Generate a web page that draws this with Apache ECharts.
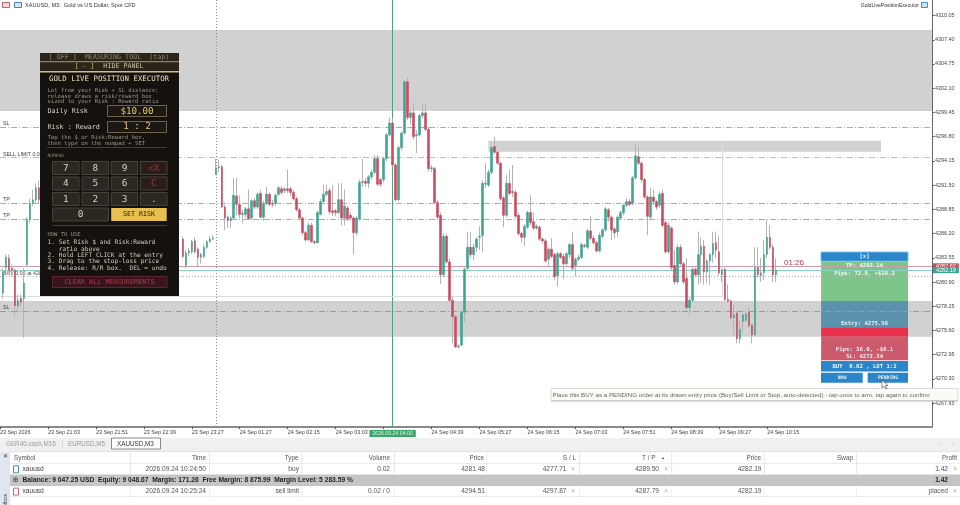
<!DOCTYPE html>
<html>
<head>
<meta charset="utf-8">
<style>html,body{margin:0;padding:0;background:#fff}#chart{width:960px;height:505px}</style>
<script src="https://cdn.jsdelivr.net/npm/echarts@6/dist/echarts.min.js"></script>
</head>
<body>
<div id="chart"></div>
<script>
// [open, close, low, high]. i = 1..13, left of the panel
var barsLeft = [
[4279.7,4281.9,4279.1,4282.4],[4282.5,4283.6,4282.2,4283.9],[4283.5,4282.2,4281.9,4283.9],[4282.4,4282.2,4281.5,4282.8],
[4282.2,4278.3,4277.1,4282.4],[4278.3,4278.9,4277.5,4279.5],[4279.1,4278.7,4278.2,4279.5],[4279.1,4280.8,4274.8,4282.4],
[4282.8,4287.7,4282.5,4288],[4287.7,4289.5,4287.3,4290],[4289.5,4289.9,4289.2,4291],[4289.9,4291.2,4289.6,4291.7],
[4291.2,4289.9,4289.5,4292]
];
// bars covered by the panel cannot be read
var hiddenBarCount = 47;
// i = 61 onwards, right of the panel
var barsRight = [
[4285.6,4283.7,4283.5,4285.9],[4282.7,4284.1,4282.4,4284.4],[4284.1,4284.3,4283.7,4284.6],[4284.2,4285.3,4284,4285.5],
[4285.4,4284.2,4284,4285.8],[4284.5,4283.6,4282.5,4284.7],[4283.6,4283.9,4282.9,4284.1],[4283.7,4284.7,4283.5,4285],
[4284.7,4285.3,4284.5,4285.5],[4285.3,4285.6,4285.2,4285.9],[4285.6,4285.7,4285.5,4286],[4292.7,4293.4,4292.6,4294.4],
[4293.4,4293.5,4292.9,4294.3],[4293.5,4289.1,4289,4293.7],[4289.1,4287.9,4286.6,4289.3],[4288,4287.6,4286.8,4288.2],
[4287.6,4287.9,4286.8,4288.1],[4287.9,4290.4,4287.7,4292.3],[4290.3,4289.4,4288.2,4292.3],[4289.4,4288.3,4287.9,4290.4],
[4288.3,4288.4,4287.3,4288.8],[4288.3,4288.9,4287.9,4289.1],[4288.9,4287.8,4287.7,4291],[4287.9,4289.8,4287.7,4290],
[4289.8,4289.1,4288.9,4290.1],[4289.1,4290.5,4288.9,4290.7],[4290.6,4288,4287.8,4291],[4288,4289.5,4287.6,4289.8],
[4289.5,4290.5,4289.3,4291.3],[4290.5,4289.4,4289.2,4290.7],[4289.5,4289.4,4289.1,4289.9],[4289.5,4290.4,4289.2,4290.6],
[4290.5,4291.2,4290.3,4291.4],[4291.1,4290.7,4290.4,4291.4],[4290.9,4291.1,4290.6,4291.3],[4291.1,4290.9,4290.6,4293.2],
[4291.1,4290.7,4290.3,4291.3],[4290.7,4290,4289.8,4291],[4290,4288.8,4288.6,4290.2],[4288.8,4287.9,4287.7,4289],
[4287.9,4286.3,4286,4288.1],[4286.3,4285.5,4285.3,4286.5],[4285.5,4287.1,4285.4,4287.4],[4287.1,4285.3,4285.2,4287.4],
[4285.3,4285.2,4285,4285.5],[4285.2,4288.5,4285.1,4288.7],[4288.3,4289.7,4288.2,4290],[4289.7,4290.5,4289.6,4291.5],
[4290.5,4290.8,4290.3,4291.5],[4290.9,4288.6,4288.3,4291.2],[4288.7,4288.5,4288.1,4291.5],[4288.7,4288.5,4288.1,4288.9],
[4288.5,4289.9,4288.3,4291.7],[4289.9,4287.9,4287.1,4291.7],[4287.9,4289.2,4287.1,4291],[4289,4287.8,4287.6,4289.2],
[4288.2,4287.9,4287.6,4288.5],[4287.9,4286.3,4283.9,4288.1],[4286.3,4287.9,4286,4288.1],[4287.8,4291.8,4287.6,4292.1],
[4291.8,4291.9,4291.3,4294.4],[4291.9,4291.7,4291.3,4292.3],[4291.7,4292.4,4291.2,4292.6],[4292.4,4292.9,4292.1,4293.2],
[4292.9,4294.4,4292.7,4294.8],[4294.4,4291.6,4291.4,4294.8],[4292.1,4291.6,4291.3,4292.3],[4292.1,4294.4,4291.8,4294.6],
[4294.4,4297,4294.1,4297.2],[4297,4298.3,4296.8,4298.9],[4298.3,4293.7,4293.5,4298.8],[4293.7,4289.9,4289.7,4293.9],
[4289.9,4295.6,4289.7,4295.8],[4295.6,4297.2,4295.3,4297.4],[4297.2,4302.8,4297,4303],[4302.8,4298.9,4298.6,4303.3],
[4298.9,4299.4,4298.1,4299.7],[4299.4,4296.8,4296.5,4300.5],[4296.9,4297,4295,4297.5],[4297,4299.1,4296.8,4299.3],
[4299.1,4299.4,4298.8,4300.5],[4299.4,4297.6,4297.4,4300.5],[4297.6,4293.3,4293,4297.9],[4293.3,4293.4,4292.9,4293.7],
[4293.3,4289.6,4289.4,4293.5],[4289.6,4288,4287.8,4289.9],[4288.2,4281.7,4280.7,4288.5],[4281.7,4285.9,4281.4,4286.2],
[4285.9,4283.1,4282.9,4286.2],[4283.1,4278.9,4278.7,4283.5],[4278.9,4277.1,4274.2,4279.3],[4277.1,4273.8,4273.7,4277.3],
[4273.8,4273.9,4273.6,4274.1],[4274,4277.6,4273.9,4277.8],[4277.6,4282.3,4276.5,4282.5],[4282.4,4284.7,4282.2,4286.4],
[4284.7,4283.9,4283.5,4286.4],[4283.9,4284.7,4283.3,4285.1],[4284.7,4285.6,4284.2,4285.8],[4285.8,4285.9,4284.4,4287],
[4286,4291.7,4284.2,4292],[4291.6,4291.7,4291.2,4293.9],[4291.5,4292.9,4291.3,4293.2],[4292.9,4295.6,4292.7,4295.8],
[4295.7,4295.1,4294.9,4296.8],[4295.1,4293.9,4293.7,4295.3],[4293.9,4290,4289.8,4294.1],[4290.1,4288.2,4286.9,4290.3],
[4288.2,4291.7,4288,4292.6],[4291.7,4290.6,4290.4,4293.2],[4290.8,4290.7,4290.2,4293.7],[4290.7,4288.1,4287.9,4291],
[4288.2,4286.2,4286,4288.5],[4286.2,4285.8,4285.2,4286.4],[4285.8,4287,4284.8,4287.2],[4286.9,4288.5,4286.7,4288.7],
[4288.5,4287.4,4287.1,4290.4],[4287.5,4286.8,4286.6,4288.5],[4286.8,4287,4286.6,4287.2],[4286.9,4285.6,4285.4,4287.1],
[4285.6,4285.4,4285.1,4285.8],[4285.4,4283.2,4283,4285.6],[4283.4,4284.5,4282.7,4284.7],[4284.5,4283.7,4283.5,4285.7],
[4283.9,4281.5,4281.1,4284.1],[4281.6,4284,4280.4,4284.2],[4284,4283.6,4283.4,4284.2],[4283.7,4282.9,4281.2,4284],
[4282.9,4284,4282.7,4284.2],[4283.9,4285,4283.5,4285.2],[4285,4282.4,4282.2,4286.4],[4282.7,4283.4,4281.5,4283.6],
[4283.4,4283.6,4283.2,4283.9],[4283.6,4285,4283.4,4285.2],[4284.9,4284.8,4284.6,4285.1],[4284.7,4286.5,4284.5,4286.7],
[4286.5,4285.7,4285.5,4288.1],[4285.7,4285.2,4285,4286],[4285.2,4284.3,4284.1,4285.4],[4284.3,4286,4284.1,4286.3],
[4285.9,4286.6,4285.7,4286.8],[4286.6,4288.9,4286.4,4289.1],[4288.8,4288,4287.5,4289],[4288,4286.6,4285.5,4288.2],
[4286.7,4286.3,4285.7,4286.9],[4286.4,4288,4285.8,4288.2],[4287.9,4288.5,4287.7,4288.7],[4288.5,4289.3,4288.2,4289.5],
[4289.3,4289.7,4289.1,4290.1],[4289.7,4289.4,4289.2,4290],[4289.5,4292.3,4289.3,4292.5],[4292.3,4294.7,4292.1,4296],
[4294.6,4293.9,4293.7,4295.7],[4293.9,4292.1,4291.8,4294.1],[4292.1,4290.2,4290,4292.3],[4290.2,4288.1,4286,4290.4],
[4288,4290.2,4287.7,4291.2],[4290.2,4289.7,4289.3,4291],[4289.7,4289.1,4288.8,4289.9],[4289.3,4290.5,4289,4290.8],
[4290.6,4287.1,4286.9,4291],[4287.4,4284.2,4284,4287.6],[4284.2,4287.1,4284,4287.4],[4286.8,4282.5,4282.2,4287],
[4282.7,4280.9,4280.6,4284.4],[4280.9,4284.7,4280.7,4285],[4284.7,4282.9,4282.7,4285],[4282.9,4280.9,4280.7,4283.1],
[4281.3,4278.1,4277.8,4283.5],[4278.1,4278.9,4277.3,4279.2],[4278.9,4282.3,4278.7,4282.5],[4282.3,4281.7,4281.4,4282.5],
[4281.7,4283.9,4280.6,4286.4],[4283.9,4284.8,4280.8,4285.8],[4284.8,4282,4280.6,4285.5],[4282,4283.2,4280.8,4283.4],
[4283.2,4283.9,4280.6,4284.1],[4283.9,4285.1,4283,4286.4],[4285.2,4284.4,4283.5,4286.4],[4284.2,4281.9,4281.6,4285.9],
[4281.7,4282.2,4280.9,4282.4],[4282.3,4279,4278.8,4282.5],[4279,4278.8,4278.6,4280.6],[4278.8,4277,4276.7,4279],
[4277,4277.3,4275.1,4278.4],[4277.5,4274.7,4274.2,4277.7],[4274.7,4275.7,4274.2,4276.7],[4276.6,4277.3,4275.4,4277.5],
[4276.7,4277.4,4276.5,4277.8],[4277.6,4276.1,4275.9,4278.1],[4276.2,4275.1,4274.2,4276.4],[4275.1,4282.5,4274.9,4284.7],
[4282.5,4281.7,4281.4,4284.7],[4281.6,4281.9,4280.9,4283.5],[4281.9,4283.9,4281.1,4285.5],[4283.9,4285.8,4283.5,4287.7],
[4285.8,4284.7,4284.4,4287.1],[4284.7,4281.7,4280.9,4285],[4281.7,4282.2,4280.9,4283.5]
];
var barSlots = 312;
var tickEvery = 16;
var timeTicks = ['23 Sep 2026','23 Sep 21:03','23 Sep 21:51','23 Sep 22:39','23 Sep 23:27','24 Sep 01:27','24 Sep 02:15','24 Sep 03:03',
  '24 Sep 03:51','24 Sep 04:39','24 Sep 05:27','24 Sep 06:15','24 Sep 07:03','24 Sep 07:51','24 Sep 08:39','24 Sep 09:27','24 Sep 10:15'];
var priceTicks = [4267.65,4270.30,4272.95,4275.60,4278.25,4280.90,4283.55,4286.20,4288.85,4291.50,4294.15,4296.80,4299.45,4302.10,4304.75,4307.40,4310.05];
var priceMin = 4265.04, priceMax = 4311.75;

var sellSl = 4297.87, sellEntry = 4294.51, buyTp = 4289.50, sellTp = 4287.79;
var askPrice = 4282.62, bidPrice = 4282.19, buyEntry = 4281.48, buySl = 4277.71;
var zoneTop = [4308.46, 4299.60], zoneMid = [4296.35, 4295.15], zoneLow = [4278.81, 4274.90];
var boxLevel = 4279.3;
var rrTp = 4283.14, rrEntry = 4275.96, rrSl = 4272.34;
var crossIndex = 131, sessionIndex = 72, boxEndIndex = 241;
var zoneMidFrom = 163, zoneMidTo = 294, rrFrom = 274, rrTo = 303;

var tableHeader = ['Symbol','Time','Type','Volume','Price','S / L','T / P','Price','Swap','Profit'];
var tableRow1 = ['xauusd','2026.09.24 10:24:50','buy','0.02','4281.48','4277.71','4289.50','4282.19','','1.42'];
var tableRow2 = ['xauusd','2026.09.24 10:25:24','sell limit','0.02 / 0','4294.51','4297.87','4287.79','4282.19','','placed'];
var balanceText = 'Balance: 9 047.25 USD  Equity: 9 048.67  Margin: 171.26  Free Margin: 8 875.99  Margin Level: 5 283.59 %';
var tabs = ['GER40.cash,M15','EURUSD,M5','XAUUSD,M3'];
var helpIntro = ['Lot from your Risk + SL distance;','release draws a risk/reward box','sized to your Risk : Reward ratio'];
var helpTap = ['Tap the $ or Risk:Reward box,','then type on the numpad + SET'];
var helpSteps = ['1. Set Risk $ and Risk:Reward','   ratio above','2. Hold LEFT CLICK at the entry','3. Drag to the stop-loss price','4. Release: R/R box.  DEL = undo'];
var keys = [['7','8','9','<X'],['4','5','6','C'],['1','2','3','.']];

var ohlc = [['-','-','-','-']].concat(barsLeft);
for (var h = 0; h < hiddenBarCount; h++) ohlc.push(['-','-','-','-']);
ohlc = ohlc.concat(barsRight);
while (ohlc.length < barSlots) ohlc.push(['-','-','-','-']);

var bodies = ohlc.map(function (b) {
    if (b[0] === '-') return b;
    return [b[0], b[1], Math.min(b[0], b[1]), Math.max(b[0], b[1])];
});
var categories = ohlc.map(function (b, i) {
    return i % tickEvery === 0 && timeTicks[i / tickEvery] ? timeTicks[i / tickEvery] : String(i);
});

var TEAL = '#3fa592', RED = '#cb4c61', MONO = '"DejaVu Sans Mono"', SANS = '"Liberation Sans"';
var dashDot = [6, 2, 1, 2];

function hLevel(v, color, type, name) {
    return {
        yAxis: v,
        lineStyle: { color: color, type: type, width: 1 },
        label: name ? { show: true, formatter: name, position: 'insideStartTop', distance: [3, 1], color: '#444', fontSize: 5.3, fontFamily: SANS } : { show: false }
    };
}
function priceTag(v, color, line) {
    return {
        yAxis: v,
        lineStyle: { color: line, type: 'solid', width: 1 },
        label: { show: true, formatter: v.toFixed(2), position: 'end', distance: 1, color: '#fff', backgroundColor: color, fontSize: 5.5, fontFamily: SANS, padding: [0, 3] }
    };
}
function areaFill(a, b, color) {
    return [{ yAxis: a, itemStyle: { color: color } }, { yAxis: b }];
}
function boxFill(a, b, color, from, to) {
    return [{ xAxis: from, yAxis: a, itemStyle: { color: color } }, { xAxis: to, yAxis: b }];
}

var g = [];
function rect(x, y, w, h, fill, stroke) {
    g.push({ type: 'rect', silent: true, z: 100, shape: { x: x, y: y, width: w, height: h }, style: { fill: fill || 'none', stroke: stroke || 'none', lineWidth: 1 } });
}
function text(x, y, s, size, color, font, align, weight) {
    g.push({ type: 'text', silent: true, z: 101, x: x, y: y, style: { text: s, fontSize: size, fontFamily: font || MONO, fill: color, textAlign: align || 'left', textVerticalAlign: 'middle', fontWeight: weight || 'normal' } });
}

// top captions
rect(2.5, 2.5, 7, 5, '#f6d9dc', '#c8606a');
rect(14.5, 2.5, 7, 5, '#dbe8f6', '#4a7fb8');
text(25, 5.2, 'XAUUSD, M3:  Gold vs US Dollar, Spot CFD', 5.6, '#333', SANS);
text(919, 5.2, 'GoldLivePositionExecutor', 5.1, '#333', SANS, 'right');
rect(921.5, 2.5, 6, 5, '#cfe4f7', '#3a8fd0');

// measuring panel
rect(40, 53, 139, 243, '#14110e');
rect(40, 53, 139, 8.5, '#2a2419');
rect(40, 62.5, 139, 8, '#2a2419');
rect(40, 61.3, 139, 1, '#b5a67a');
rect(40, 71, 139, 1.4, '#cdbf92');
text(109, 57.2, '[ OFF ]  MEASURING TOOL  (tap)', 6.7, '#8c8570', MONO, 'center');
text(84.5, 66.6, '[ - ]', 6.7, '#d8b860', MONO, 'center');
text(123.5, 66.6, 'HIDE PANEL', 6.7, '#d2c79d', MONO, 'center');
text(109, 79.5, 'GOLD LIVE POSITION EXECUTOR', 7.4, '#ece0bb', MONO, 'center');
helpIntro.forEach(function (s, i) { text(47.5, 91 + i * 5.4, s, 5.6, '#9a9484'); });
text(47.5, 111.5, 'Daily Risk', 6.7, '#dcd5c0');
rect(107.5, 105.5, 59, 11, '#1b1712', '#6e6445');
text(137, 111.2, '$10.00', 9.2, '#e8c46a', MONO, 'center');
text(47.5, 127.5, 'Risk : Reward', 6.7, '#dcd5c0');
rect(107.5, 121.5, 59, 11, '#1b1712', '#6e6445');
text(137, 127, '1 : 2', 9.2, '#e8c46a', MONO, 'center');
helpTap.forEach(function (s, i) { text(47.5, 138 + i * 5.7, s, 5.6, '#9a9484'); });
rect(47, 147, 119.5, 0.6, '#7a6e4c');
text(47.5, 156, 'NUMPAD', 4.6, '#8c8570');
var keyX = [52, 81.5, 110.7, 140], keyY = [161.5, 177, 192.5, 208];
keys.forEach(function (row, r) {
    row.forEach(function (k, c) {
        var warn = c === 3 && r < 2;
        rect(keyX[c] + 0.5, keyY[r], 26.5, 13, warn ? '#2a1d17' : '#2b2822', '#47433a');
        text(keyX[c] + 13.8, keyY[r] + 6.7, k, 9.4, warn ? '#8c3f3c' : '#d6d0bc', MONO, 'center');
    });
});
rect(52.5, 208, 56, 13, '#2b2822', '#47433a');
text(80.5, 214.7, '0', 9.4, '#d6d0bc', MONO, 'center');
rect(111.2, 208, 55.5, 13, '#e8c050');
text(139, 214.7, 'SET RISK', 6.7, '#1a1508', MONO, 'center');
rect(52, 225.5, 115, 0.6, '#7a6e4c');
text(47.5, 234.2, 'HOW TO USE', 5.5, '#9a9484');
var stepY = [242.5, 249, 255.4, 261.7, 268];
helpSteps.forEach(function (s, i) { text(47.5, stepY[i], s, 6.2, '#d0cab6'); });
rect(52.5, 276.5, 114.5, 11, '#3a141c', '#5e2530');
text(109.5, 282, 'CLEAR ALL MEASUREMENTS', 6.8, '#a83a48', MONO, 'center');

// buttons and captions of the risk/reward box
rect(821, 252, 87, 9.2, '#2a86c8', '#7cc0ee');
text(864.5, 256.7, '[x]', 5.6, '#eaf4fb', MONO, 'center', 'bold');
text(864.5, 266, 'TP: 4283.14', 5.6, '#f2f8f2', MONO, 'center', 'bold');
text(864.5, 273.3, 'Pips: 72.0, +$16.2', 5.6, '#f2f8f2', MONO, 'center', 'bold');
text(864.5, 324, 'Entry: 4275.96', 5.6, '#e6eff2', MONO, 'center', 'bold');
text(864.5, 349.7, 'Pips: 36.0, -$8.1', 5.6, '#f6eaec', MONO, 'center', 'bold');
text(864.5, 356.7, 'SL: 4272.34', 5.6, '#f6eaec', MONO, 'center', 'bold');
rect(821, 361, 87, 10.5, '#2a86c8');
text(864.5, 366.3, 'BUY  0.02 , LOT 1:2', 5.6, '#eaf4fb', MONO, 'center', 'bold');
rect(821, 372.7, 41.7, 10, '#2a86c8');
text(842, 377.7, 'NOW', 4.8, '#eaf4fb', MONO, 'center', 'bold');
rect(867.7, 372.7, 40.3, 10, '#2a86c8');
text(888, 377.7, 'PENDING', 4.8, '#eaf4fb', MONO, 'center', 'bold');
text(784, 262.3, '01:26', 8, '#b23a4a', SANS);
g.push({ type: 'polygon', silent: true, z: 102, shape: { points: [[882, 380], [882, 388], [884, 386], [886, 389], [887, 388.5], [885.5, 385.5], [888, 385.5]] }, style: { fill: '#fff', stroke: '#444', lineWidth: 0.6 } });

// tooltip of the pending button
rect(551, 388.5, 407, 12, '#fbfbf6', '#dcdcdc');
rect(551, 400.5, 407, 1, '#bdbdbd');
text(552.5, 394.8, 'Place this BUY as a PENDING order at its drawn entry price (Buy/Sell Limit or Stop, auto-detected) - tap once to arm, tap again to confirm', 6.2, '#666', SANS);

// terminal table
rect(0, 438, 960, 13.5, '#f0f0f0');
text(6, 444.2, tabs[0], 6.3, '#999', SANS);
rect(62.2, 440, 0.6, 8, '#ccc');
text(68, 444.2, tabs[1], 6.3, '#999', SANS);
rect(111.5, 438, 49, 11, '#fff', '#888');
text(117, 444.2, tabs[2], 6.3, '#333', SANS);
text(941, 444.2, '\u2039', 6, '#bbb', SANS, 'center');
text(953, 444.2, '\u203a', 6, '#bbb', SANS, 'center');
rect(0, 451.5, 960, 53.5, '#ffffff');
rect(0, 451.5, 10, 53.5, '#dfe6f0');
text(5, 456.5, '\u2715', 5.5, '#333', SANS, 'center');
g.push({ type: 'text', silent: true, z: 101, x: 5.5, y: 494, rotation: Math.PI / 2, style: { text: 'Toolbox', fontSize: 5.6, fontFamily: SANS, fill: '#444', textAlign: 'right', textVerticalAlign: 'middle' } });
rect(10, 451.5, 950, 0.6, '#c8c8c8');
rect(10, 463.5, 950, 0.6, '#dcdcdc');
rect(10, 474.5, 950, 11.5, '#c5c5c5');
rect(10, 496.5, 950, 0.6, '#dcdcdc');
[130, 209, 301.5, 394, 486.5, 579, 671.5, 764, 856.5].forEach(function (x) {
    rect(x, 452, 0.6, 22, '#d8d8d8');
    rect(x, 486, 0.6, 11, '#e4e4e4');
});
var rightEdge = [206, 298.5, 390, 484, 576, 655.5, 761, 853, 957];
var rowEdge = [206, 299, 390, 485, 566.5, 659, 761.5, 853, 948];
text(14, 458, tableHeader[0], 6.4, '#555', SANS);
rightEdge.forEach(function (x, i) { text(x, 458, tableHeader[i + 1], 6.4, '#555', SANS, 'right'); });
text(663, 457.5, '\u25b2', 3.6, '#333', SANS, 'center');
[[469.3, tableRow1, '#4a8fa8'], [491.6, tableRow2, '#c86a72']].forEach(function (r) {
    rect(13.5, r[0] - 3.5, 5, 7, '#fff', r[2]);
    text(22.5, r[0], r[1][0], 6.6, '#444', SANS);
    rowEdge.forEach(function (x, i) {
        var c = i === 8 && r[1][9] === '1.42' ? '#3a3aa8' : '#555';
        text(x, r[0], r[1][i + 1], 6.6, c, SANS, 'right');
    });
    [573, 666, 955].forEach(function (x) { text(x, r[0], '\u00d7', 6.4, '#aaa', SANS, 'center'); });
});
text(15.5, 480.3, '\u2295', 7.2, '#333', '"DejaVu Sans"', 'center');
text(22.5, 480.5, balanceText, 6.7, '#222', SANS, 'left', 'bold');
text(948, 480.5, tableRow1[9], 6.6, '#222', SANS, 'right', 'bold');

var tickShown = function (i) { return i % tickEvery === 0 && i / tickEvery < timeTicks.length; };

var myChart = echarts.init(document.getElementById('chart'), null, { renderer: 'canvas' });
var option = {
    animation: false,
    grid: { left: 0, right: 28, top: 0, bottom: 78, outerBoundsMode: 'none' },
    xAxis: {
        type: 'category',
        data: categories,
        boundaryGap: false,
        axisLine: { lineStyle: { color: '#8a8a8a', width: 2 } },
        axisTick: { length: 2, lineStyle: { color: '#555' }, interval: tickShown },
        axisLabel: { interval: tickShown, align: 'left', margin: 3, color: '#444', fontSize: 5.4, fontFamily: SANS, hideOverlap: false },
        splitLine: { show: false }
    },
    yAxis: {
        type: 'value',
        position: 'right',
        min: priceMin,
        max: priceMax,
        scale: true,
        axisLine: { show: true, lineStyle: { color: '#666', width: 1 } },
        axisTick: { show: true, length: 2.5, customValues: priceTicks, lineStyle: { color: '#555' } },
        axisLabel: { customValues: priceTicks, margin: 3, color: '#444', fontSize: 5.4, fontFamily: SANS, formatter: function (v) { return v.toFixed(2); } },
        splitLine: { show: false }
    },
    graphic: g,
    series: [
        {
            // grey wicks, bodies are laid over them by the next series
            type: 'candlestick',
            data: ohlc,
            barWidth: 1,
            itemStyle: { color: 'transparent', color0: 'transparent', borderColor: '#b4b4b4', borderColor0: '#b4b4b4', borderWidth: 1 },
            markArea: {
                silent: true,
                z: 0,
                data: [
                    areaFill(zoneTop[0], zoneTop[1], '#d1d1d1'),
                    boxFill(zoneMid[0], zoneMid[1], '#d1d1d1', zoneMidFrom, zoneMidTo),
                    areaFill(zoneLow[0], zoneLow[1], '#d1d1d1'),
                    boxFill(rrTp, zoneLow[0], '#7cc68a', rrFrom, rrTo),
                    boxFill(zoneLow[0], rrEntry, '#5b93ad', rrFrom, rrTo),
                    boxFill(rrEntry, zoneLow[1], '#e8304a', rrFrom, rrTo),
                    boxFill(zoneLow[1], rrSl, '#cc5a6c', rrFrom, rrTo)
                ]
            },
            markLine: {
                silent: true,
                symbol: 'none',
                z: 1,
                precision: 2,
                data: [
                    hLevel(sellSl, '#c9a0a6', dashDot, 'SL'),
                    hLevel(sellEntry, '#a8c8c0', dashDot, 'SELL LIMIT 0.02'),
                    hLevel(buyTp, '#c9a0a6', dashDot, 'TP'),
                    hLevel(sellTp, '#c9a0a6', dashDot, 'TP'),
                    hLevel(buyEntry, '#b4b4b4', [1, 2], 'BUY 0.02 at 4281.48'),
                    hLevel(buySl, '#b58f95', dashDot, 'SL'),
                    priceTag(askPrice, '#c8505e', '#cf9aaa'),
                    priceTag(bidPrice, TEAL, '#8ccfc4'),
                    {
                        xAxis: sessionIndex,
                        lineStyle: { color: '#8a8a8a', type: [1, 2], width: 1 },
                        label: { show: false }
                    },
                    {
                        xAxis: crossIndex,
                        lineStyle: { color: '#4fa27a', type: 'solid', width: 1 },
                        label: { show: true, position: 'start', distance: 3, formatter: '2026.09.24 04:00', color: '#dff2e6', backgroundColor: '#3aa86a', fontSize: 5.2, fontFamily: SANS, padding: [1, 3] }
                    },
                    [
                        { coord: [0, boxLevel], lineStyle: { color: '#dcdcdc', type: 'solid', width: 1 }, label: { show: false } },
                        { coord: [boxEndIndex, boxLevel] }
                    ],
                    [
                        { coord: [boxEndIndex, zoneMid[0]], lineStyle: { color: '#dcdcdc', type: 'solid', width: 1 }, label: { show: false } },
                        { coord: [boxEndIndex, boxLevel] }
                    ]
                ]
            }
        },
        {
            type: 'candlestick',
            data: bodies,
            barWidth: 2,
            z: 3,
            itemStyle: { color: TEAL, color0: RED, borderColor: TEAL, borderColor0: RED, borderWidth: 0.6 }
        }
    ]
};
myChart.setOption(option);
</script>
</body>
</html>
